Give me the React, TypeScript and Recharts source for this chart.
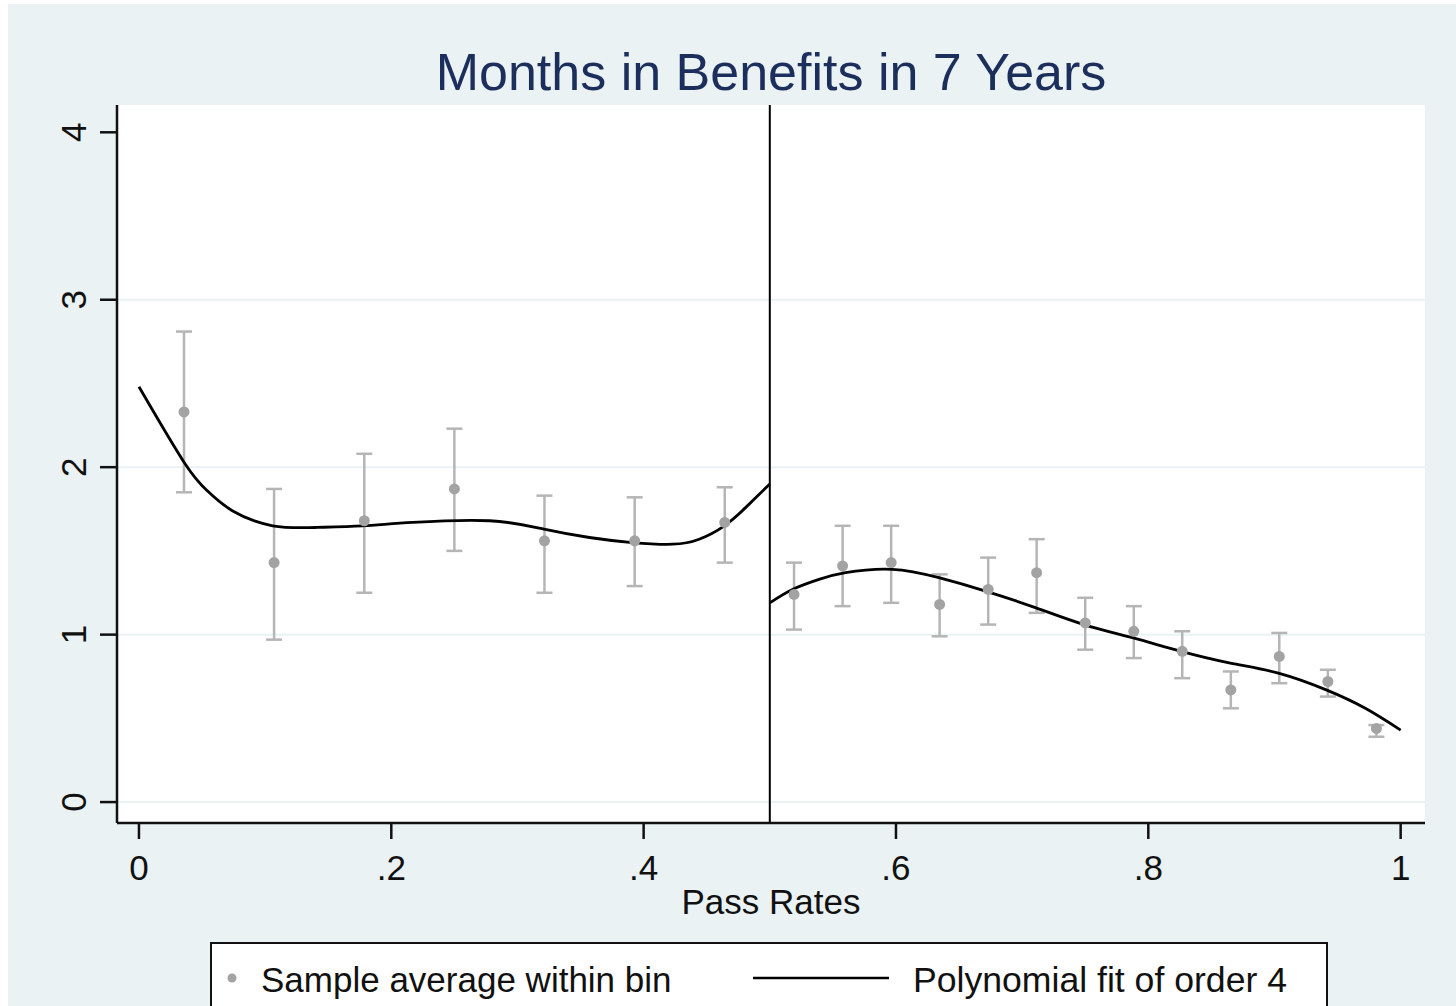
import React from 'react';
import {
  ComposedChart,
  Scatter,
  Line,
  XAxis,
  YAxis,
  CartesianGrid,
  ReferenceLine,
  ErrorBar,
} from 'recharts';

// Bin averages with 95% confidence bounds, below the 0.5 cutoff
const leftBinCenters = [0.0357, 0.1071, 0.1786, 0.25, 0.3214, 0.3929, 0.4643];
const leftBinMeans = [2.33, 1.43, 1.68, 1.87, 1.56, 1.56, 1.67];
const leftCiLow = [1.85, 0.97, 1.25, 1.5, 1.25, 1.29, 1.43];
const leftCiHigh = [2.81, 1.87, 2.08, 2.23, 1.83, 1.82, 1.88];

// Bin averages with 95% confidence bounds, above the cutoff
const rightBinCenters = [
  0.5192, 0.5577, 0.5962, 0.6346, 0.6731, 0.7115, 0.75, 0.7885, 0.8269, 0.8654, 0.9038, 0.9423, 0.9808,
];
const rightBinMeans = [1.24, 1.41, 1.43, 1.18, 1.27, 1.37, 1.07, 1.02, 0.9, 0.67, 0.87, 0.72, 0.44];
const rightCiLow = [1.03, 1.17, 1.19, 0.99, 1.06, 1.13, 0.91, 0.86, 0.74, 0.56, 0.71, 0.63, 0.39];
const rightCiHigh = [1.43, 1.65, 1.65, 1.36, 1.46, 1.57, 1.22, 1.17, 1.02, 0.78, 1.01, 0.79, 0.46];

// Fitted quartic, sampled along each side of the cutoff
const leftFitX = [0, 0.0357, 0.054, 0.074, 0.106, 0.141, 0.177, 0.217, 0.278, 0.321, 0.357, 0.391, 0.423, 0.444, 0.464, 0.481, 0.5];
const leftFitY = [2.48, 2.03, 1.86, 1.74, 1.65, 1.64, 1.65, 1.67, 1.68, 1.63, 1.58, 1.55, 1.54, 1.57, 1.65, 1.76, 1.9];
const rightFitX = [0.5, 0.518, 0.539, 0.56, 0.597, 0.634, 0.671, 0.711, 0.749, 0.788, 0.826, 0.865, 0.903, 0.941, 0.972, 1];
const rightFitY = [1.19, 1.27, 1.33, 1.37, 1.39, 1.34, 1.26, 1.16, 1.06, 0.98, 0.9, 0.83, 0.77, 0.67, 0.56, 0.43];

const xTicks = [0, 0.2, 0.4, 0.6, 0.8, 1];
const xTickLabels = ['0', '.2', '.4', '.6', '.8', '1'];
const yTicks = [0, 1, 2, 3, 4];
const gridValues = [0, 1, 2, 3];

const CUTOFF = 0.5;

const binData = (centers: number[], means: number[], lo: number[], hi: number[]) =>
  centers.map((x, i) => ({ x, y: means[i], err: [means[i] - lo[i], hi[i] - means[i]] }));

const fitData = (xs: number[], ys: number[]) => xs.map((x, i) => ({ x, fit: ys[i] }));

const leftBins = binData(leftBinCenters, leftBinMeans, leftCiLow, leftCiHigh);
const rightBins = binData(rightBinCenters, rightBinMeans, rightCiLow, rightCiHigh);
const leftFit = fitData(leftFitX, leftFitY);
const rightFit = fitData(rightFitX, rightFitY);

const FONT = '"Liberation Sans", Arial, sans-serif';
const BG = '#eaf2f3';
const DOT = '#a3a3a3';
const BAR = '#b5b5b5';

const Dot = (props: any) => <circle cx={props.cx} cy={props.cy} r={5.5} fill={DOT} />;

const YTick = (props: any) => {
  const { x, y, payload } = props;
  const tx = x - 14;
  return (
    <text
      x={tx}
      y={y}
      transform={`rotate(-90, ${tx}, ${y})`}
      textAnchor="middle"
      fontFamily={FONT}
      fontSize={35}
      fill="#111"
    >
      {String(payload.value)}
    </text>
  );
};

const XTick = (props: any) => {
  const { x, y, payload } = props;
  const idx = xTicks.indexOf(payload.value);
  return (
    <text x={x} y={y + 41} textAnchor="middle" fontFamily={FONT} fontSize={35} fill="#111">
      {idx >= 0 ? xTickLabels[idx] : String(payload.value)}
    </text>
  );
};

export default function App() {
  return (
    <div
      style={{
        position: 'absolute',
        left: 8,
        top: 4,
        width: 1448,
        height: 1002,
        background: BG,
        overflow: 'hidden',
        fontFamily: FONT,
      }}
    >
      <div
        style={{
          position: 'absolute',
          left: 109,
          width: 1308,
          top: 42,
          textAlign: 'center',
          fontSize: 52,
          lineHeight: '52px',
          color: '#1c2f5c',
        }}
      >
        Months in Benefits in 7 Years
      </div>

      <ComposedChart
        width={1448}
        height={1002}
        margin={{ top: 101, right: 31, bottom: 103, left: 0 }}
        style={{ position: 'absolute', left: 0, top: 0 }}
      >
        <CartesianGrid
          vertical={false}
          horizontalValues={gridValues}
          stroke={BG}
          strokeWidth={2}
          fill="#ffffff"
          fillOpacity={1}
        />
        <XAxis
          type="number"
          dataKey="x"
          domain={[-0.0174, 1.0193]}
          allowDataOverflow
          ticks={xTicks}
          interval={0}
          height={80}
          tickSize={16}
          tickMargin={0}
          tick={<XTick />}
          axisLine={{ stroke: '#111', strokeWidth: 2.5 }}
          tickLine={{ stroke: '#111', strokeWidth: 2.5 }}
          label={{
            value: 'Pass Rates',
            position: 'insideBottom',
            offset: -11,
            fontFamily: FONT,
            fontSize: 35,
            fill: '#111',
          }}
        />
        <YAxis
          type="number"
          domain={[-0.125, 4.163]}
          allowDataOverflow
          ticks={yTicks}
          interval={0}
          width={109}
          tickSize={17}
          tickMargin={0}
          tick={<YTick />}
          axisLine={{ stroke: '#111', strokeWidth: 2.5 }}
          tickLine={{ stroke: '#111', strokeWidth: 2.5 }}
        />
        <ReferenceLine x={CUTOFF} stroke="#000" strokeWidth={2} />

        <Scatter data={leftBins} dataKey="y" shape={<Dot />} isAnimationActive={false}>
          <ErrorBar dataKey="err" direction="y" width={8} stroke={BAR} strokeWidth={2.5} />
        </Scatter>
        <Scatter data={rightBins} dataKey="y" shape={<Dot />} isAnimationActive={false}>
          <ErrorBar dataKey="err" direction="y" width={8} stroke={BAR} strokeWidth={2.5} />
        </Scatter>

        <Line
          data={leftFit}
          dataKey="fit"
          type="natural"
          stroke="#000"
          strokeWidth={2.8}
          dot={false}
          activeDot={false}
          isAnimationActive={false}
        />
        <Line
          data={rightFit}
          dataKey="fit"
          type="natural"
          stroke="#000"
          strokeWidth={2.8}
          dot={false}
          activeDot={false}
          isAnimationActive={false}
        />
      </ComposedChart>

      {/* Legend box, running past the bottom edge */}
      <div
        style={{
          position: 'absolute',
          left: 202,
          top: 938,
          width: 1118,
          height: 100,
          background: '#fff',
          border: '2.5px solid #111',
          boxSizing: 'border-box',
        }}
      >
        <svg width={1118} height={100} style={{ position: 'absolute', left: -2.5, top: -2.5 }}>
          <circle cx={22} cy={36} r={4.5} fill={DOT} />
          <text x={51} y={50} fontFamily={FONT} fontSize={35} fill="#111">
            Sample average within bin
          </text>
          <line x1={543} y1={36} x2={679} y2={36} stroke="#000" strokeWidth={2.5} />
          <text x={703} y={50} fontFamily={FONT} fontSize={35} fill="#111" textLength={374} lengthAdjust="spacingAndGlyphs">
            Polynomial fit of order 4
          </text>
        </svg>
      </div>
    </div>
  );
}
